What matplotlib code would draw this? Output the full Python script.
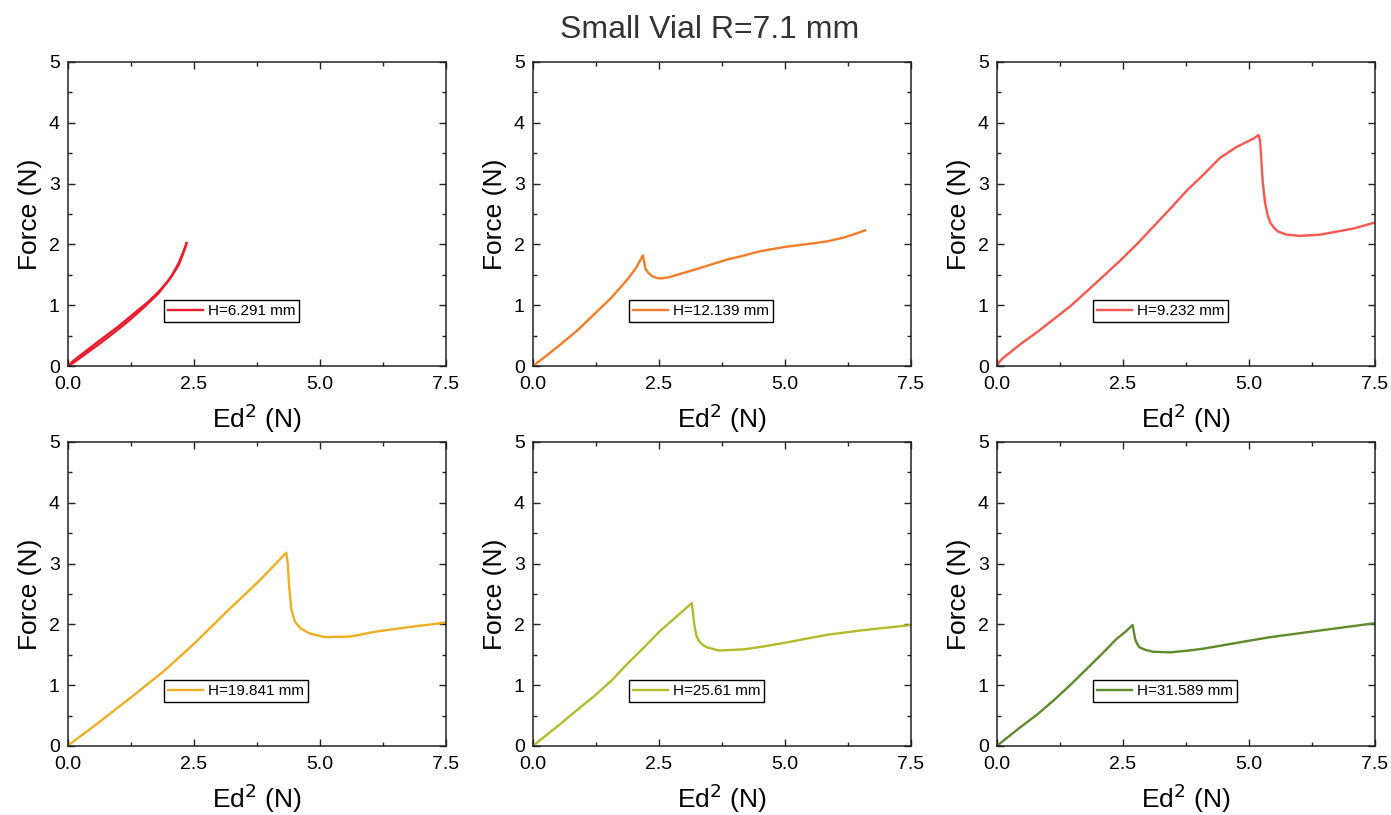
import numpy as np
import matplotlib.pyplot as plt
from matplotlib.ticker import MultipleLocator

plt.rcParams['font.family'] = ['Liberation Sans', 'DejaVu Sans']

# Valores (Ed^2 em N, força em N)
x1_up = [0.0, 0.1, 0.3, 0.63, 1.0, 1.29, 1.6, 1.82, 2.0, 2.09, 2.2, 2.28, 2.33, 2.35]
y1_up = [0.0, 0.08, 0.21, 0.42, 0.65, 0.85, 1.06, 1.24, 1.41, 1.53, 1.7, 1.86, 1.96, 2.02]
x1_dn = [2.35, 2.32, 2.27, 2.2, 2.05, 1.8, 1.5, 1.2, 0.9, 0.6, 0.3, 0.1, 0.0]
y1_dn = [2.02, 1.94, 1.82, 1.67, 1.47, 1.2, 0.96, 0.74, 0.54, 0.35, 0.17, 0.05, 0.0]

x2 = [0.0, 0.25, 0.54, 0.9, 1.2, 1.55, 1.87, 2.05, 2.18, 2.2, 2.23, 2.28, 2.36, 2.45, 2.53,
      2.7, 2.86, 3.19, 3.5, 3.85, 4.2, 4.52, 5.01, 5.4, 5.84, 6.2, 6.59]
y2 = [0.0, 0.16, 0.35, 0.6, 0.84, 1.12, 1.42, 1.62, 1.82, 1.74, 1.6, 1.54, 1.48, 1.45, 1.44,
      1.46, 1.5, 1.58, 1.66, 1.75, 1.82, 1.89, 1.96, 2.0, 2.05, 2.12, 2.23]

x3 = [0.0, 0.05, 0.12, 0.45, 0.8, 1.11, 1.45, 1.77, 2.1, 2.44, 2.77, 3.1, 3.43, 3.76, 4.1,
      4.42, 4.75, 5.09, 5.19, 5.22, 5.24, 5.27, 5.32, 5.37, 5.42, 5.5, 5.58, 5.75, 6.01,
      6.41, 7.07, 7.5]
y3 = [0.0, 0.07, 0.13, 0.35, 0.56, 0.76, 0.98, 1.22, 1.47, 1.73, 2.0, 2.29, 2.58, 2.88, 3.15,
      3.42, 3.6, 3.74, 3.8, 3.7, 3.45, 3.05, 2.68, 2.48, 2.36, 2.27, 2.21, 2.16, 2.14,
      2.16, 2.26, 2.36]

x4 = [0.0, 0.1, 0.6, 1.25, 1.9, 2.5, 3.2, 3.8, 4.1, 4.33, 4.36, 4.39, 4.43, 4.5, 4.62,
      4.8, 5.1, 5.6, 6.1, 6.8, 7.5]
y4 = [0.0, 0.07, 0.38, 0.8, 1.23, 1.68, 2.25, 2.72, 2.98, 3.18, 3.0, 2.6, 2.25, 2.05, 1.93,
      1.85, 1.79, 1.8, 1.88, 1.96, 2.03]

x5 = [0.0, 0.1, 0.54, 0.9, 1.2, 1.55, 1.87, 2.2, 2.53, 2.85, 3.15, 3.17, 3.2, 3.24, 3.29,
      3.37, 3.46, 3.69, 4.19, 4.6, 5.01, 5.84, 6.5, 7.5]
y5 = [0.0, 0.07, 0.36, 0.61, 0.81, 1.07, 1.35, 1.62, 1.9, 2.13, 2.35, 2.22, 2.0, 1.82, 1.73,
      1.66, 1.62, 1.57, 1.59, 1.64, 1.7, 1.83, 1.9, 1.99]

x6 = [0.0, 0.1, 0.45, 0.8, 1.11, 1.45, 1.77, 2.1, 2.37, 2.55, 2.69, 2.71, 2.74, 2.78, 2.83,
      2.95, 3.1, 3.43, 3.8, 4.09, 4.92, 5.42, 6.41, 7.5]
y6 = [0.0, 0.07, 0.3, 0.52, 0.74, 1.0, 1.26, 1.53, 1.76, 1.88, 1.99, 1.9, 1.76, 1.68, 1.62,
      1.58, 1.55, 1.54, 1.57, 1.6, 1.72, 1.79, 1.9, 2.02]

labels = ["H=6.291 mm", "H=12.139 mm", "H=9.232 mm", "H=19.841 mm", "H=25.61 mm", "H=31.589 mm"]
colors = ["#EC1C2E", "#F47B28", "#F8574E", "#EFAE20", "#B4BA2A", "#5E8A2B"]

series = [
    [(x1_up, y1_up), (x1_dn, y1_dn)],
    [(x2, y2)],
    [(x3, y3)],
    [(x4, y4)],
    [(x5, y5)],
    [(x6, y6)],
]

fig = plt.figure(figsize=(13.91, 8.15), dpi=100)
lefts = [68, 533, 997]
tops = [62, 442]
w, h = 378, 304

for i in range(6):
    r, c = divmod(i, 3)
    ax = fig.add_axes([lefts[c] / 1391, 1 - (tops[r] + h) / 815, w / 1391, h / 815])
    for k, (xs, ys) in enumerate(series[i]):
        ax.plot(xs, ys, color=colors[i], lw=1.7, solid_joinstyle='round',
                label=labels[i] if k == 0 else None)
    ax.set_xlim(0, 7.5)
    ax.set_ylim(0, 5)
    ax.xaxis.set_major_locator(MultipleLocator(2.5))
    ax.xaxis.set_minor_locator(MultipleLocator(1.25))
    ax.yaxis.set_major_locator(MultipleLocator(1))
    ax.yaxis.set_minor_locator(MultipleLocator(0.5))
    ax.xaxis.set_major_formatter(plt.FuncFormatter(lambda v, p: f"{v:.1f}"))
    ax.yaxis.set_major_formatter(plt.FuncFormatter(lambda v, p: f"{v:.0f}"))
    ax.tick_params(which='both', direction='in', top=True, right=True, colors='#222222',
                   labelcolor='black', labelsize=14)
    ax.tick_params(axis='x', which='major', pad=7)
    ax.tick_params(axis='y', which='major', pad=6)
    ax.tick_params(which='major', length=5, width=1)
    ax.tick_params(which='minor', length=3, width=1)
    for s in ax.spines.values():
        s.set_linewidth(1.1)
        s.set_color('#222222')
    ax.set_xlabel("Ed$^2$ (N)", fontsize=19, labelpad=6)
    ax.set_ylabel("Force (N)", fontsize=19, labelpad=5)
    leg = ax.legend(loc='lower left', bbox_to_anchor=(0.255, 0.145), fontsize=11,
                    frameon=True, fancybox=False, edgecolor='black', framealpha=1,
                    handlelength=2.3, handletextpad=0.3, borderpad=0.25, borderaxespad=0)
    leg.get_frame().set_linewidth(1.0)

fig.text(710 / 1391, 1 - 30 / 815, "Small Vial R=7.1 mm", ha='center', va='center',
         fontsize=23, color='#333333')

fig.savefig("out.png", dpi=100)
